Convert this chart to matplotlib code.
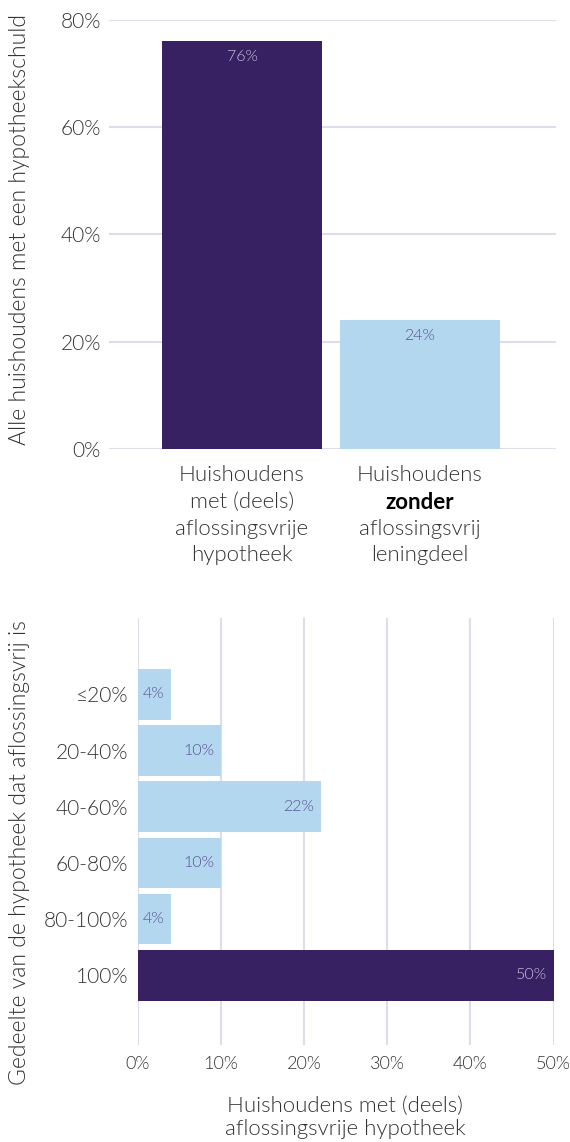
import numpy as np
import matplotlib
matplotlib.use('Agg')
import matplotlib.pyplot as plt

# --- data ---
top_categories = ["Huishoudens\nmet (deels)\naflossingsvrije\nhypotheek",
                  "Huishoudens\nzonder\naflossingsvrij\nleningdeel"]
top_values = [76, 24]
top_ticks = [0, 20, 40, 60, 80]

bottom_categories = ["≤20%", "20-40%", "40-60%", "60-80%", "80-100%", "100%"]
bottom_values = [4, 10, 22, 10, 4, 50]
bottom_ticks = [0, 10, 20, 30, 40, 50]

bold_words = ["zonder"]

# --- style ---
DARK = "#372162"
LIGHT = "#b3d7ee"
GRID = "#dfdde9"
TEXT = "#333333"
LBL_ON_DARK = "#c9c0df"
LBL_ON_LIGHT = "#5a4f94"
FONT = ["Lato", "DejaVu Sans"]
LIGHTW = 300

plt.rcParams['font.family'] = FONT
plt.rcParams['font.weight'] = LIGHTW

W, H = 570, 1142
fig = plt.figure(figsize=(W / 100, H / 100), dpi=100)


def fx(px):
    return px / W


def fy(py):
    return 1 - py / H


def style_axes(ax):
    for s in ax.spines.values():
        s.set_visible(False)
    ax.tick_params(length=0, labelsize=15, labelcolor=TEXT)
    for lab in ax.get_xticklabels() + ax.get_yticklabels():
        lab.set_fontweight(LIGHTW)


# === top chart ===
ax1 = fig.add_axes([fx(109), fy(449), fx(556) - fx(109), fy(20) - fy(449)])
x = np.arange(len(top_values))
colors = [DARK, LIGHT]
ax1.bar(x, top_values, width=0.9, color=colors, zorder=2)
ax1.set_ylim(0, 80)
ax1.set_xlim(-0.747, 1.764)
ax1.set_yticks(top_ticks)
ax1.set_yticklabels([f"{t}%" for t in top_ticks])
ax1.set_xticks([])
style_axes(ax1)
ax1.tick_params(axis='y', pad=6)
ax1.grid(axis='y', color=GRID, linewidth=1.5, zorder=0)
ax1.set_axisbelow(True)

for i, v in enumerate(top_values):
    ax1.annotate(f"{v}%", xy=(i, v), xytext=(0, -11), textcoords='offset points',
                 ha='center', va='center', fontsize=11.5, fontweight=LIGHTW,
                 color=LBL_ON_DARK if colors[i] == DARK else LBL_ON_LIGHT)

# category labels, line by line so one word can be bold
for i, cat in enumerate(top_categories):
    for j, line in enumerate(cat.split("\n")):
        bold = line in bold_words
        ax1.annotate(line, xy=(i, 0), xycoords=('data', 'axes fraction'),
                     xytext=(0, -19 - j * 19.2), textcoords='offset points',
                     ha='center', va='center', fontsize=16,
                     color='black' if bold else TEXT,
                     fontweight='bold' if bold else LIGHTW)

fig.text(fx(20), fy(230), "Alle huishoudens met een hypotheekschuld", rotation=90,
         ha='center', va='center', fontsize=16.5, color=TEXT, fontweight=LIGHTW)

# === bottom chart ===
ax2 = fig.add_axes([fx(137.7), fy(1045), fx(553.5) - fx(137.7), fy(618) - fy(1045)])
y = np.arange(len(bottom_values))
bcolors = [LIGHT] * (len(bottom_values) - 1) + [DARK]
ax2.barh(y, bottom_values, height=0.9, color=bcolors, zorder=2)
ax2.set_xlim(0, 50)
ax2.set_ylim(6.24, -1.36)
ax2.set_yticks(y)
ax2.set_yticklabels(bottom_categories)
ax2.set_xticks(bottom_ticks)
ax2.set_xticklabels([f"{t}%" for t in bottom_ticks])
style_axes(ax2)
ax2.tick_params(axis='y', pad=7)
ax2.tick_params(axis='x', pad=8, labelsize=13)
ax2.grid(axis='x', color=GRID, linewidth=1.5, zorder=0)
ax2.set_axisbelow(True)

for i, v in enumerate(bottom_values):
    ax2.annotate(f"{v}%", xy=(v, i), xytext=(-5, 0), textcoords='offset points',
                 ha='right', va='center', fontsize=11.5, fontweight=LIGHTW,
                 color=LBL_ON_DARK if bcolors[i] == DARK else LBL_ON_LIGHT)

fig.text(fx(20), fy(853), "Gedeelte van de hypotheek dat aflossingsvrij is", rotation=90,
         ha='center', va='center', fontsize=16.5, color=TEXT, fontweight=LIGHTW)
fig.text(fx(345), fy(1117.5), "Huishoudens met (deels)\naflossingsvrije hypotheek",
         ha='center', va='center', fontsize=16, color=TEXT, linespacing=1.2,
         fontweight=LIGHTW)

fig.savefig("out.png", dpi=100)
